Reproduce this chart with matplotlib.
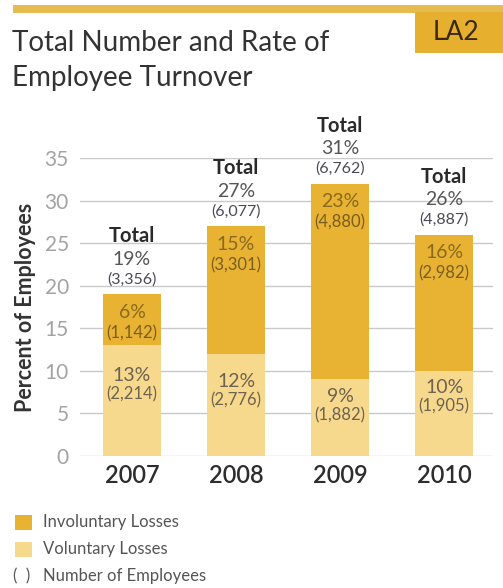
import matplotlib
matplotlib.use("Agg")
import matplotlib.pyplot as plt
from matplotlib.patches import Rectangle

plt.rcParams["font.family"] = ["Lato", "DejaVu Sans"]

# Data
years = ["2007", "2008", "2009", "2010"]
involuntary_pct = [6, 15, 23, 16]
involuntary_n = ["(1,142)", "(3,301)", "(4,880)", "(2,982)"]
voluntary_pct = [13, 12, 9, 10]
voluntary_n = ["(2,214)", "(2,776)", "(1,882)", "(1,905)"]
total_pct = [19, 27, 31, 26]
total_n = ["(3,356)", "(6,077)", "(6,762)", "(4,887)"]
y_ticks = [0, 5, 10, 15, 20, 25, 30, 35]

C_INV = "#E8B233"
C_VOL = "#F7D98E"
GOLD = "#E6B02E"

W, H = 503, 588
fig = plt.figure(figsize=(W / 100, H / 100), dpi=100)

# Decoration layer in pixel coordinates
deco = fig.add_axes([0, 0, 1, 1], zorder=0)
deco.set_xlim(0, W)
deco.set_ylim(H, 0)
deco.axis("off")

deco.add_patch(Rectangle((13, 5), W - 13, 8, color="#E6BC52", lw=0))
deco.add_patch(Rectangle((415, 12), W - 415, 41, color=GOLD, lw=0))
deco.text(456, 33, "LA2", fontsize=19, color="#3a2812", ha="center", va="center")
deco.text(12, 43, "Total Number and Rate of", fontsize=20, color="#333333",
          ha="left", va="center")
deco.text(12, 78, "Employee Turnover", fontsize=20, color="#333333",
          ha="left", va="center")

# Legend
deco.add_patch(Rectangle((15, 515), 17, 15, color=C_INV, lw=0))
deco.add_patch(Rectangle((15, 542), 17, 15, color=C_VOL, lw=0))
deco.text(43, 522, "Involuntary Losses", fontsize=12, color="#555555", va="center")
deco.text(43, 549, "Voluntary Losses", fontsize=12, color="#555555", va="center")
deco.text(13, 576, "(  )", fontsize=12, color="#555555", va="center")
deco.text(43, 576, "Number of Employees", fontsize=12, color="#555555", va="center")

# Main chart
ax = fig.add_axes([80 / W, 1 - 456 / H, (493 - 80) / W, (456 - 158) / H], zorder=1)
ax.patch.set_alpha(0)
x = list(range(len(years)))
ax.bar(x, voluntary_pct, width=0.56, color=C_VOL, zorder=2)
ax.bar(x, involuntary_pct, bottom=voluntary_pct, width=0.56, color=C_INV, zorder=2)

ax.set_xlim(-0.5, 3.47)
ax.set_ylim(0, 35)
ax.set_yticks(y_ticks)
ax.set_yticklabels([str(t) for t in y_ticks])
ax.grid(axis="y", color="#c9c9c9", lw=1, zorder=0)
for s in ax.spines.values():
    s.set_visible(False)
ax.tick_params(axis="y", length=0, pad=8, labelsize=15, labelcolor="#a3a3a3")
ax.tick_params(axis="x", length=0, pad=6)
ax.set_xticks(x)
ax.set_xticklabels(years, fontsize=17, color="#2d2d2d", fontweight="semibold")
ax.set_ylabel("Percent of Employees", fontsize=15.5, fontweight="bold",
              color="#333333", labelpad=6)

vol_drop = [30, 28, 17, 17]
for i in x:
    top = voluntary_pct[i] + involuntary_pct[i]
    kw = dict(xycoords="data", textcoords="offset pixels", ha="center",
              va="center", annotation_clip=False)
    # totals above each bar
    ax.annotate("Total", (i, top), xytext=(0, 58), fontsize=14.5,
                fontweight="bold", color="#2a2a2a", **kw)
    ax.annotate(f"{total_pct[i]}%", (i, top), xytext=(0, 35), fontsize=14,
                color="#555555", **kw)
    ax.annotate(total_n[i], (i, top), xytext=(0, 15), fontsize=11.5,
                color="#4a4a55", **kw)
    # involuntary segment
    ax.annotate(f"{involuntary_pct[i]}%", (i, top), xytext=(0, -18),
                fontsize=14, color="#8a6a1c", **kw)
    ax.annotate(involuntary_n[i], (i, top), xytext=(0, -39),
                fontsize=12, color="#7a5e1e", **kw)
    # voluntary segment
    ax.annotate(f"{voluntary_pct[i]}%", (i, voluntary_pct[i]),
                xytext=(0, -vol_drop[i]), fontsize=14, color="#6e6250", **kw)
    ax.annotate(voluntary_n[i], (i, voluntary_pct[i]),
                xytext=(0, -vol_drop[i] - 19), fontsize=12, color="#6e6250", **kw)

fig.savefig("out.png", dpi=100)
